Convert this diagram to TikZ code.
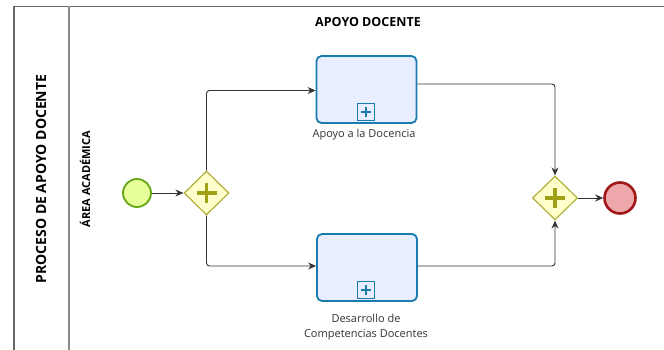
\documentclass[tikz,border=0pt]{standalone}
\usepackage{fontspec}
\setmainfont{Open Sans}
\usetikzlibrary{shapes.geometric,arrows.meta}
\definecolor{startfill}{HTML}{E6FF97}
\definecolor{startline}{HTML}{62A716}
\definecolor{gwfill}{HTML}{FFFFCC}
\definecolor{gwline}{HTML}{B0B03A}
\definecolor{gwplus}{HTML}{A0A016}
\definecolor{taskfill}{HTML}{E8EEFF}
\definecolor{taskline}{HTML}{1A7BAF}
\definecolor{endfill}{HTML}{EEA8AC}
\definecolor{endline}{HTML}{A01818}
\definecolor{poolline}{HTML}{666666}
\definecolor{laneline}{HTML}{8A8A8A}
\definecolor{flowline}{HTML}{333333}
\definecolor{labeltext}{HTML}{333333}
\tikzset{
  startev/.style={circle,draw=startline,fill=startfill,line width=1.8pt,minimum size=28pt,inner sep=0pt},
  endev/.style={circle,draw=endline,fill=endfill,line width=2.6pt,minimum size=31pt,inner sep=0pt},
  gateway/.style={diamond,draw=gwline,fill=gwfill,line width=1.2pt,minimum width=45pt,minimum height=44pt,inner sep=0pt},
  subproc/.style={rectangle,rounded corners=5pt,draw=taskline,fill=taskfill,line width=1.8pt,minimum width=100pt,minimum height=67pt,inner sep=0pt},
  marker/.style={rectangle,draw=taskline,fill=taskfill,line width=1.4pt,minimum size=17pt,inner sep=0pt},
  flow/.style={draw=flowline,line width=0.9pt,rounded corners=3pt,-{Stealth[length=8pt,width=7pt]}},
  tasklabel/.style={font=\fontsize{11}{15}\selectfont,text=labeltext,align=center},
}
\begin{document}
\begin{tikzpicture}[x=1pt,y=-1pt]
\useasboundingbox (0,0) rectangle (664,350);
% pool and lane
\draw[poolline,line width=1.4pt] (664,6.5) -- (14,6.5) -- (14,350);
\draw[laneline,line width=1.2pt] (69,6.5) -- (69,350);
\node[rotate=90,font=\bfseries\fontsize{14}{16}\selectfont] (pool) at (41,179) {PROCESO DE APOYO DOCENTE};
\node[rotate=90,font=\bfseries\fontsize{11}{13}\selectfont] (lane) at (85,179) {ÁREA ACADÉMICA};
\node[font=\bfseries\fontsize{12.5}{14}\selectfont] (title) at (368,22) {APOYO DOCENTE};
% nodes
\node[startev] (start) at (137,193) {};
\node[gateway] (g1) at (206.5,193) {};
\draw[gwplus,line width=3.2pt] ([xshift=-10pt]g1.center) -- ([xshift=10pt]g1.center)
  ([yshift=-10pt]g1.center) -- ([yshift=10pt]g1.center);
\node[subproc] (t1) at (366.5,89.5) {};
\node[marker] (m1) at (366,112) {};
\draw[taskline,line width=2.2pt] ([xshift=-5pt]m1.center) -- ([xshift=5pt]m1.center)
  ([yshift=-5pt]m1.center) -- ([yshift=5pt]m1.center);
\node[tasklabel] (l1) at (364,135) {Apoyo a la Docencia};
\node[subproc] (t2) at (367,267.5) {};
\node[marker] (m2) at (366,290) {};
\draw[taskline,line width=2.2pt] ([xshift=-5pt]m2.center) -- ([xshift=5pt]m2.center)
  ([yshift=-5pt]m2.center) -- ([yshift=5pt]m2.center);
\node[tasklabel] (l2) at (366,327) {Desarrollo de\\Competencias Docentes};
\node[gateway] (g2) at (555,198) {};
\draw[gwplus,line width=3.2pt] ([xshift=-10pt]g2.center) -- ([xshift=10pt]g2.center)
  ([yshift=-10pt]g2.center) -- ([yshift=10pt]g2.center);
\node[endev] (end) at (620,198) {};
% flows
\draw[flow] (start.east) -- (g1.west);
\draw[flow] (g1.north) |- ([yshift=-1pt]t1.west);
\draw[flow] (g1.south) |- ([yshift=1.5pt]t2.west);
\draw[flow] ([yshift=5.5pt]t1.east) -| (g2.north);
\draw[flow] ([yshift=1.5pt]t2.east) -| (g2.south);
\draw[flow] (g2.east) -- (end.west);
\end{tikzpicture}
\end{document}
